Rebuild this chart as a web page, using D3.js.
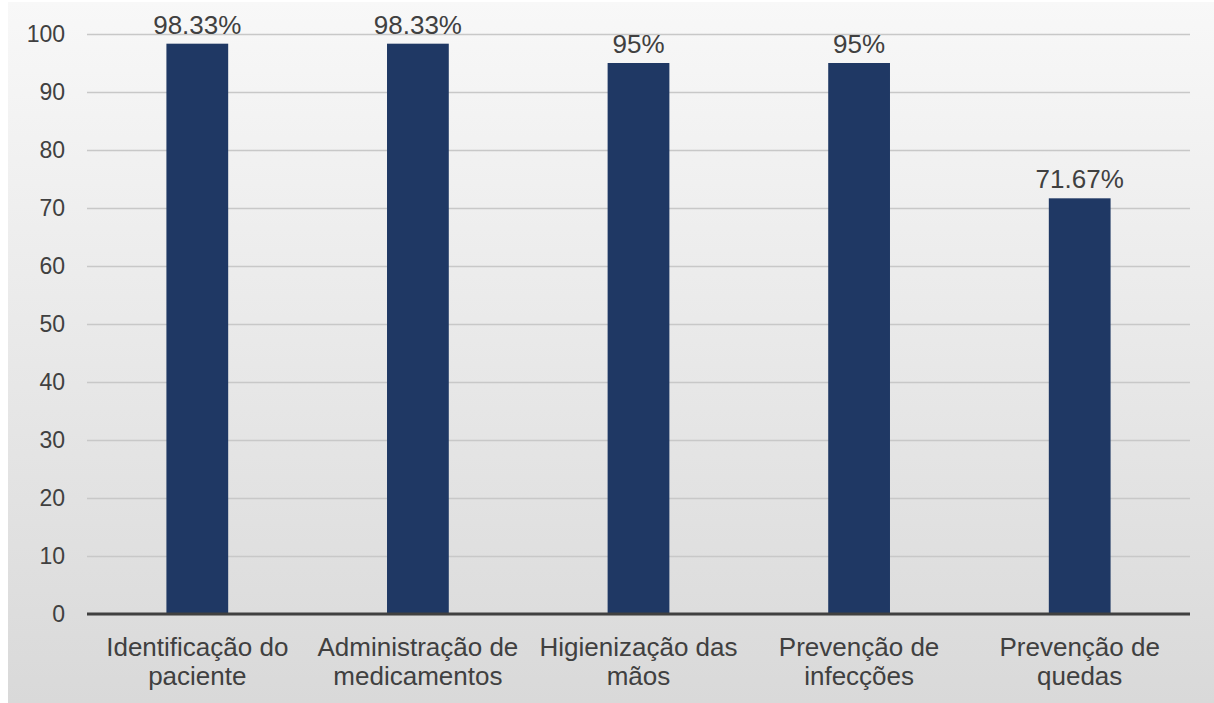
<!DOCTYPE html>
<html>
<head>
<meta charset="utf-8">
<script src="https://cdn.jsdelivr.net/npm/d3@7"></script>
<style>
  body { margin: 0; background: #fff; }
  svg { display: block; font-family: "Liberation Sans", Arial, sans-serif; }
</style>
</head>
<body>
<div id="chart"></div>
<script>
// categories and values
let categories = [
    ["Identificação do", "paciente"],
    ["Administração de", "medicamentos"],
    ["Higienização das", "mãos"],
    ["Prevenção de", "infecções"],
    ["Prevenção de", "quedas"]
];
let values = [98.33, 98.33, 95, 95, 71.67];
let valueLabels = ["98.33%", "98.33%", "95%", "95%", "71.67%"];
let yTicks = [0, 10, 20, 30, 40, 50, 60, 70, 80, 90, 100];

let showBarChart = () => {
    const w = 1214, h = 703;
    const left = 87, right = 1190, top = 34, bottom = 614;

    const svg = d3.select("#chart")
        .append("svg")
        .attr("width", w)
        .attr("height", h);

    // background gradient
    const grad = svg.append("defs").append("linearGradient")
        .attr("id", "bg")
        .attr("x1", 0).attr("y1", 0).attr("x2", 0).attr("y2", 1);
    grad.append("stop").attr("offset", "0%").attr("stop-color", "#f8f8f8");
    grad.append("stop").attr("offset", "100%").attr("stop-color", "#d9d9d9");

    svg.append("rect")
        .attr("x", 8).attr("y", 2)
        .attr("width", w - 8).attr("height", h - 2)
        .attr("fill", "url(#bg)");

    const x = d3.scaleBand()
        .domain(d3.range(categories.length))
        .range([left, right])
        .paddingInner(0.72)
        .paddingOuter(0.36);

    const y = d3.scaleLinear()
        .domain([0, 100])
        .range([bottom, top]);

    // gridlines + tick labels
    const yAxis = svg.append("g")
        .attr("transform", "translate(" + left + ",0)")
        .call(d3.axisLeft(y).tickValues(yTicks).tickSize(-(right - left)).tickPadding(22));
    yAxis.select(".domain").remove();
    yAxis.selectAll(".tick line")
        .attr("stroke", "#c8c8c8")
        .attr("stroke-width", 1.5);
    yAxis.selectAll(".tick text")
        .attr("fill", "#404040")
        .style("font-size", "23px");

    // bars
    svg.selectAll(".bar")
        .data(values)
        .enter()
        .append("rect")
        .attr("class", "bar")
        .attr("x", (d, i) => x(i))
        .attr("y", d => y(d))
        .attr("width", x.bandwidth())
        .attr("height", d => y(0) - y(d))
        .attr("fill", "#1f3864");

    // value labels
    svg.selectAll(".val")
        .data(values)
        .enter()
        .append("text")
        .attr("class", "val")
        .attr("x", (d, i) => x(i) + x.bandwidth() / 2)
        .attr("y", d => y(d) - 10)
        .attr("text-anchor", "middle")
        .attr("fill", "#404040")
        .style("font-size", "26px")
        .text((d, i) => valueLabels[i]);

    // baseline
    svg.append("line")
        .attr("x1", left).attr("x2", right)
        .attr("y1", y(0)).attr("y2", y(0))
        .attr("stroke", "#404040")
        .attr("stroke-width", 3);

    // category labels
    const cat = svg.selectAll(".cat")
        .data(categories)
        .enter()
        .append("text")
        .attr("class", "cat")
        .attr("text-anchor", "middle")
        .attr("fill", "#404040")
        .style("font-size", "26px");
    cat.selectAll("tspan")
        .data(d => d)
        .enter()
        .append("tspan")
        .attr("x", function () {
            const i = categories.indexOf(d3.select(this.parentNode).datum());
            return x(i) + x.bandwidth() / 2;
        })
        .attr("y", (d, j) => 656 + j * 29)
        .text(d => d);
}

showBarChart();
</script>
</body>
</html>
